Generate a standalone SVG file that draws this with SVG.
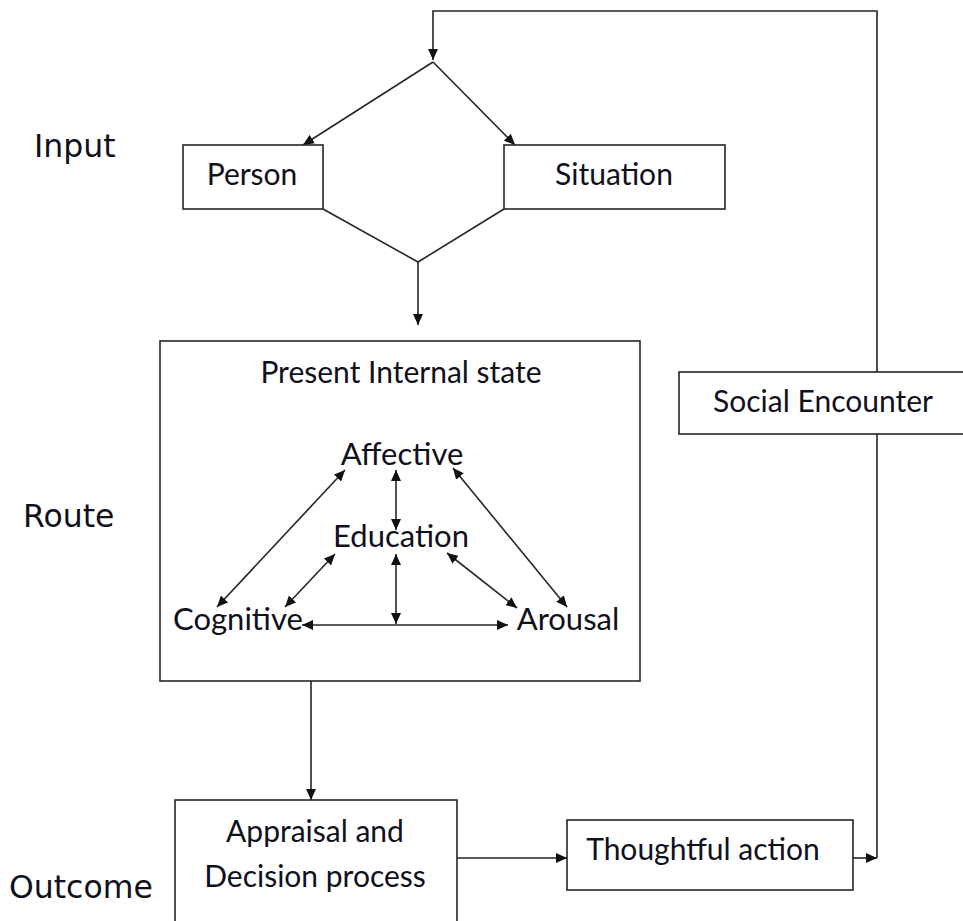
<svg xmlns="http://www.w3.org/2000/svg" width="963" height="921" viewBox="0 0 963 921">
<style>
.box{fill:#fff;stroke:#262626;stroke-width:1.6}
.ln{fill:none;stroke:#262626;stroke-width:1.6}
.t{font-family:Lato,"Liberation Sans",sans-serif;fill:#10101c;text-anchor:middle}
.m{font-size:30px}
.big{font-size:31px}
.lab{font-family:"DejaVu Sans",Verdana,sans-serif;font-size:31.5px;text-anchor:start}
</style>
<defs>
<marker id="ah" markerUnits="userSpaceOnUse" markerWidth="11" markerHeight="10" refX="11" refY="5" orient="auto-start-reverse" viewBox="0 0 11 10">
<path d="M0,0 L11,5 L0,10 z" fill="#111"/>
</marker>
</defs>
<rect width="963" height="921" fill="#fff"/>
<g id="labels">
<text class="t lab" x="34" y="157">Input</text>
<text class="t lab" x="23" y="527">Route</text>
<text class="t lab" x="9" y="898">Outcome</text>
</g>
<g id="connectors">
<polyline class="ln" points="877,372 877,11 433,11 433,60" marker-end="url(#ah)"/>
<line class="ln" x1="433" y1="62" x2="303" y2="145" marker-end="url(#ah)"/>
<line class="ln" x1="433" y1="62" x2="515" y2="145" marker-end="url(#ah)"/>
<polyline class="ln" points="323,209 418,262 504,209"/>
<line class="ln" x1="418" y1="262" x2="418" y2="325" marker-end="url(#ah)"/>
<line class="ln" x1="311" y1="681" x2="311" y2="800" marker-end="url(#ah)"/>
<line class="ln" x1="457" y1="858" x2="567" y2="858" marker-end="url(#ah)"/>
<line class="ln" x1="853" y1="858" x2="877" y2="858" marker-end="url(#ah)"/>
<line class="ln" x1="877" y1="434" x2="877" y2="858"/>
<line class="ln" x1="345" y1="470" x2="217" y2="607" marker-start="url(#ah)" marker-end="url(#ah)"/>
<line class="ln" x1="396" y1="470" x2="396" y2="530" marker-start="url(#ah)" marker-end="url(#ah)"/>
<line class="ln" x1="335" y1="554" x2="285" y2="607" marker-start="url(#ah)" marker-end="url(#ah)"/>
<line class="ln" x1="396" y1="554" x2="396" y2="624" marker-start="url(#ah)" marker-end="url(#ah)"/>
<line class="ln" x1="302" y1="625" x2="508" y2="625" marker-start="url(#ah)" marker-end="url(#ah)"/>
<line class="ln" x1="447" y1="553" x2="517" y2="608" marker-start="url(#ah)" marker-end="url(#ah)"/>
<line class="ln" x1="453" y1="468" x2="567" y2="607" marker-start="url(#ah)" marker-end="url(#ah)"/>
</g>
<g id="person">
<rect class="box" x="183" y="145" width="140" height="64"/>
<text class="t m" x="252" y="185">Person</text>
</g>
<g id="situation">
<rect class="box" x="504" y="145" width="221" height="64"/>
<text class="t m" x="614" y="185">Situation</text>
</g>
<g id="internal-state">
<rect class="box" x="160" y="341" width="480" height="340" style="fill:none"/>
<text class="t m" x="401" y="383">Present Internal state</text>
</g>
<g id="affective"><text class="t big" x="402" y="465">Affective</text></g>
<g id="education"><text class="t big" x="401" y="547">Education</text></g>
<g id="cognitive"><text class="t big" x="238" y="630">Cognitive</text></g>
<g id="arousal"><text class="t big" x="568" y="630">Arousal</text></g>
<g id="social-encounter">
<rect class="box" x="679" y="372" width="300" height="62"/>
<text class="t m" x="823" y="412">Social Encounter</text>
</g>
<g id="appraisal">
<rect class="box" x="175" y="800" width="282" height="130"/>
<text class="t m" x="315" y="842">Appraisal and</text>
<text class="t m" x="315" y="887">Decision process</text>
</g>
<g id="thoughtful-action">
<rect class="box" x="567" y="820" width="286" height="70"/>
<text class="t m" x="703" y="860">Thoughtful action</text>
</g>
</svg>
